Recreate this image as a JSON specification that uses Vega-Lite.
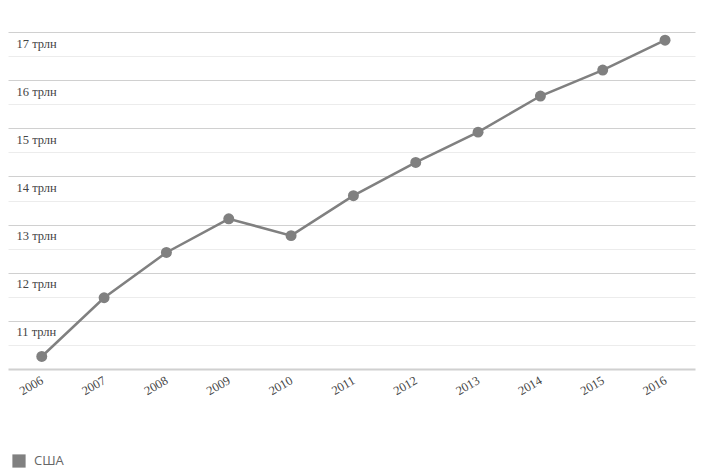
{
  "$schema": "https://vega.github.io/schema/vega-lite/v6.json",
  "width": 687,
  "height": 337,
  "autosize": {"type": "none"},
  "padding": {"left": 8, "top": 32, "right": 31, "bottom": 107},
  "background": "white",
  "config": {"view": {"stroke": null}},
  "data": {
    "values": [
      {"year": "2006", "value": 10.26, "country": "США"},
      {"year": "2007", "value": 11.48, "country": "США"},
      {"year": "2008", "value": 12.42, "country": "США"},
      {"year": "2009", "value": 13.12, "country": "США"},
      {"year": "2010", "value": 12.77, "country": "США"},
      {"year": "2011", "value": 13.6, "country": "США"},
      {"year": "2012", "value": 14.29, "country": "США"},
      {"year": "2013", "value": 14.92, "country": "США"},
      {"year": "2014", "value": 15.67, "country": "США"},
      {"year": "2015", "value": 16.21, "country": "США"},
      {"year": "2016", "value": 16.83, "country": "США"}
    ]
  },
  "encoding": {
    "x": {
      "field": "year",
      "type": "ordinal",
      "scale": {"type": "point", "padding": 0.511, "align": 0.53},
      "axis": {
        "title": null,
        "domain": false,
        "ticks": false,
        "grid": false,
        "labelAngle": -30,
        "labelAlign": "right",
        "labelBaseline": "middle",
        "labelPadding": 10,
        "labelFont": "Liberation Serif",
        "labelFontSize": 12.5,
        "labelColor": "#444"
      }
    },
    "y": {
      "field": "value",
      "type": "quantitative",
      "scale": {"domain": [10, 17], "nice": false, "zero": false},
      "axis": {
        "title": null,
        "domain": false,
        "ticks": false,
        "values": [10, 10.5, 11, 11.5, 12, 12.5, 13, 13.5, 14, 14.5, 15, 15.5, 16, 16.5, 17],
        "labelExpr": "datum.value % 1 == 0 && datum.value > 10 ? datum.value + ' трлн' : ''",
        "labelAlign": "left",
        "labelBaseline": "top",
        "labelPadding": -8,
        "labelOffset": 5,
        "labelFont": "Liberation Serif",
        "labelFontSize": 12.5,
        "labelColor": "#444",
        "grid": true,
        "gridColor": {"condition": {"test": "datum.value % 1 == 0", "value": "#d0d0d0"}, "value": "#ececec"},
        "gridWidth": {"condition": {"test": "datum.value == 10", "value": 2}, "value": 1}
      }
    }
  },
  "layer": [
    {
      "mark": {"type": "line", "color": "#808080", "strokeWidth": 2.5}
    },
    {
      "mark": {"type": "point", "filled": true, "size": 120, "opacity": 1},
      "encoding": {
        "color": {
          "field": "country",
          "type": "nominal",
          "scale": {"range": ["#808080"]},
          "legend": {
            "title": null,
            "orient": "none",
            "legendX": 4,
            "legendY": 422,
            "padding": 0,
            "symbolType": "square",
            "symbolSize": 175,
            "symbolStrokeWidth": 0,
            "labelFont": "Open Sans",
            "labelFontSize": 13,
            "labelColor": "#666",
            "labelOffset": 8
          }
        }
      }
    }
  ]
}
